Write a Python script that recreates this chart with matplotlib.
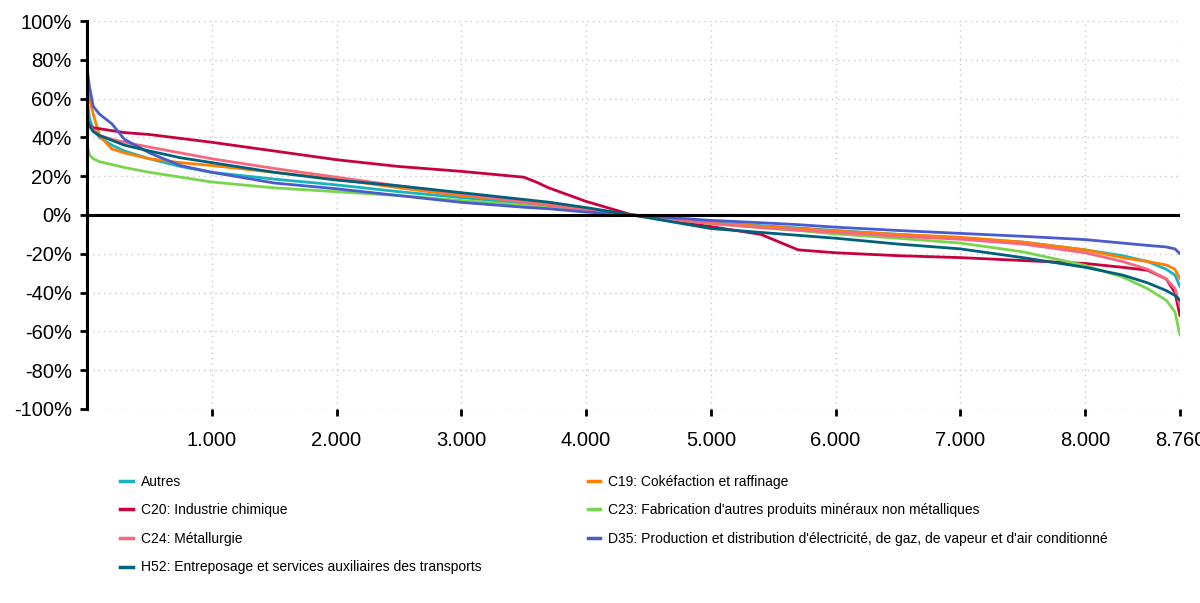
import matplotlib.pyplot as plt
import matplotlib.ticker as mticker
from matplotlib.lines import Line2D

plt.rcParams['font.family'] = ['Liberation Sans', 'DejaVu Sans']

# hours of the year, sorted (duration curve)
hours = [0, 20, 50, 100, 200, 300, 500, 750, 1000, 1500, 2000, 2500, 3000, 3500, 3600, 3700,
         4000, 4370, 5000, 5400, 5700, 6000, 6500, 7000, 7500, 8000, 8300, 8500, 8650, 8720, 8760]

autres = [60, 50, 44, 40, 36, 33, 29, 25, 22, 18.5, 15.5, 12, 9, 6, 5.3, 4.7,
          2.5, 0, -4, -5.5, -6.7, -8, -10, -12, -14, -18, -21, -24, -28, -31, -37]
c19 = [65, 60, 52, 41, 34, 32, 29, 27, 25.5, 22, 18.5, 14, 10, 7, 6.3, 5.6,
       3, 0, -4.3, -5.8, -7, -8.3, -10, -11.5, -14, -18, -22, -24, -25.8, -28, -33]
c20 = [47, 46, 45, 44.5, 43.5, 42.5, 41.5, 39.5, 37.5, 33, 28.5, 25, 22.5, 19.5, 17, 14,
       7, 0, -6, -10, -18, -19.5, -21, -22, -23.5, -25, -27, -28.5, -33, -40, -52]
c23 = [36, 31, 29, 27.5, 26, 24.5, 22, 19.5, 17, 14, 12, 10, 7.5, 5, 4.4, 3.8,
       2, 0, -4.5, -6.5, -8, -9.8, -12, -14.5, -19, -26, -32, -38, -44, -50, -62]
c24 = [48, 46, 44, 41, 39, 37.5, 35, 32, 29, 24, 19.5, 15, 11, 6.5, 5.7, 5,
       2.5, 0, -4.3, -6.5, -7.8, -9, -11, -12.5, -15, -19.5, -24, -28, -33, -38, -47]
d35 = [76, 66, 56, 52, 47, 39, 32, 25.5, 22, 16.5, 13.5, 10, 6.5, 4, 3.6, 3.2,
       1.5, 0, -2.8, -4, -5, -6.3, -8, -9.5, -11, -12.7, -14.5, -15.7, -16.5, -17.5, -20]
h52 = [50, 46, 43, 41, 38.5, 36, 33, 29.5, 27, 22, 18, 15, 11.5, 8, 7.3, 6.6,
       3.8, 0, -7, -9, -10.5, -12, -15, -17.5, -22, -27, -31, -35, -39, -41.5, -44]

names = ['Autres',
         'C19: Cokéfaction et raffinage',
         'C20: Industrie chimique',
         "C23: Fabrication d'autres produits minéraux non métalliques",
         'C24: Métallurgie',
         "D35: Production et distribution d'électricité, de gaz, de vapeur et d'air conditionné",
         'H52: Entreposage et services auxiliaires des transports']
series = [autres, c19, c20, c23, c24, d35, h52]
colors = ['#17b3c1', '#ff7f00', '#c8003c', '#77d64b', '#f7677f', '#4a5bd0', '#00627a']

xticks = [1000, 2000, 3000, 4000, 5000, 6000, 7000, 8000, 8760]

fig = plt.figure(figsize=(12, 6.03), dpi=100)
ax = fig.add_axes([0.0725, 0.322, 0.9108, 0.643])

for vals, col, name in zip(series, colors, names):
    ax.plot(hours, vals, color=col, lw=2.0, label=name, solid_capstyle='round')

ax.axhline(0, color='black', lw=2.2, zorder=5)

ax.set_xlim(0, 8760)
ax.set_ylim(-100, 100)
ax.set_xticks(xticks)
ax.set_xticklabels([f'{v:,}'.replace(',', '.') for v in xticks])
ax.set_yticks(range(-100, 101, 20))
ax.yaxis.set_major_formatter(mticker.FuncFormatter(lambda v, p: f'{v:.0f}%'))

ax.grid(True, color='#c8c8c8', linestyle=(0, (1, 3)), lw=1.0)
for s in ['top', 'right', 'bottom']:
    ax.spines[s].set_visible(False)
ax.spines['left'].set_linewidth(2.2)
ax.tick_params(axis='y', length=5, width=2, labelsize=14.5, pad=6)
ax.tick_params(axis='x', length=5, width=2, labelsize=14.5, pad=11)

# legend in two columns below the chart
def handles(idx):
    return [Line2D([0], [0], color=colors[i], lw=2.5) for i in idx], [names[i] for i in idx]

h1, l1 = handles([0, 2, 4, 6])
h2, l2 = handles([1, 3, 5])
kw = dict(loc='upper left', frameon=False, fontsize=10, handlelength=0.9,
          handletextpad=0.6, labelspacing=1.05, borderaxespad=0)
fig.legend(h1, l1, bbox_to_anchor=(0.0955, 0.222), **kw)
fig.legend(h2, l2, bbox_to_anchor=(0.485, 0.222), **kw)

fig.savefig('out.png', dpi=100)
